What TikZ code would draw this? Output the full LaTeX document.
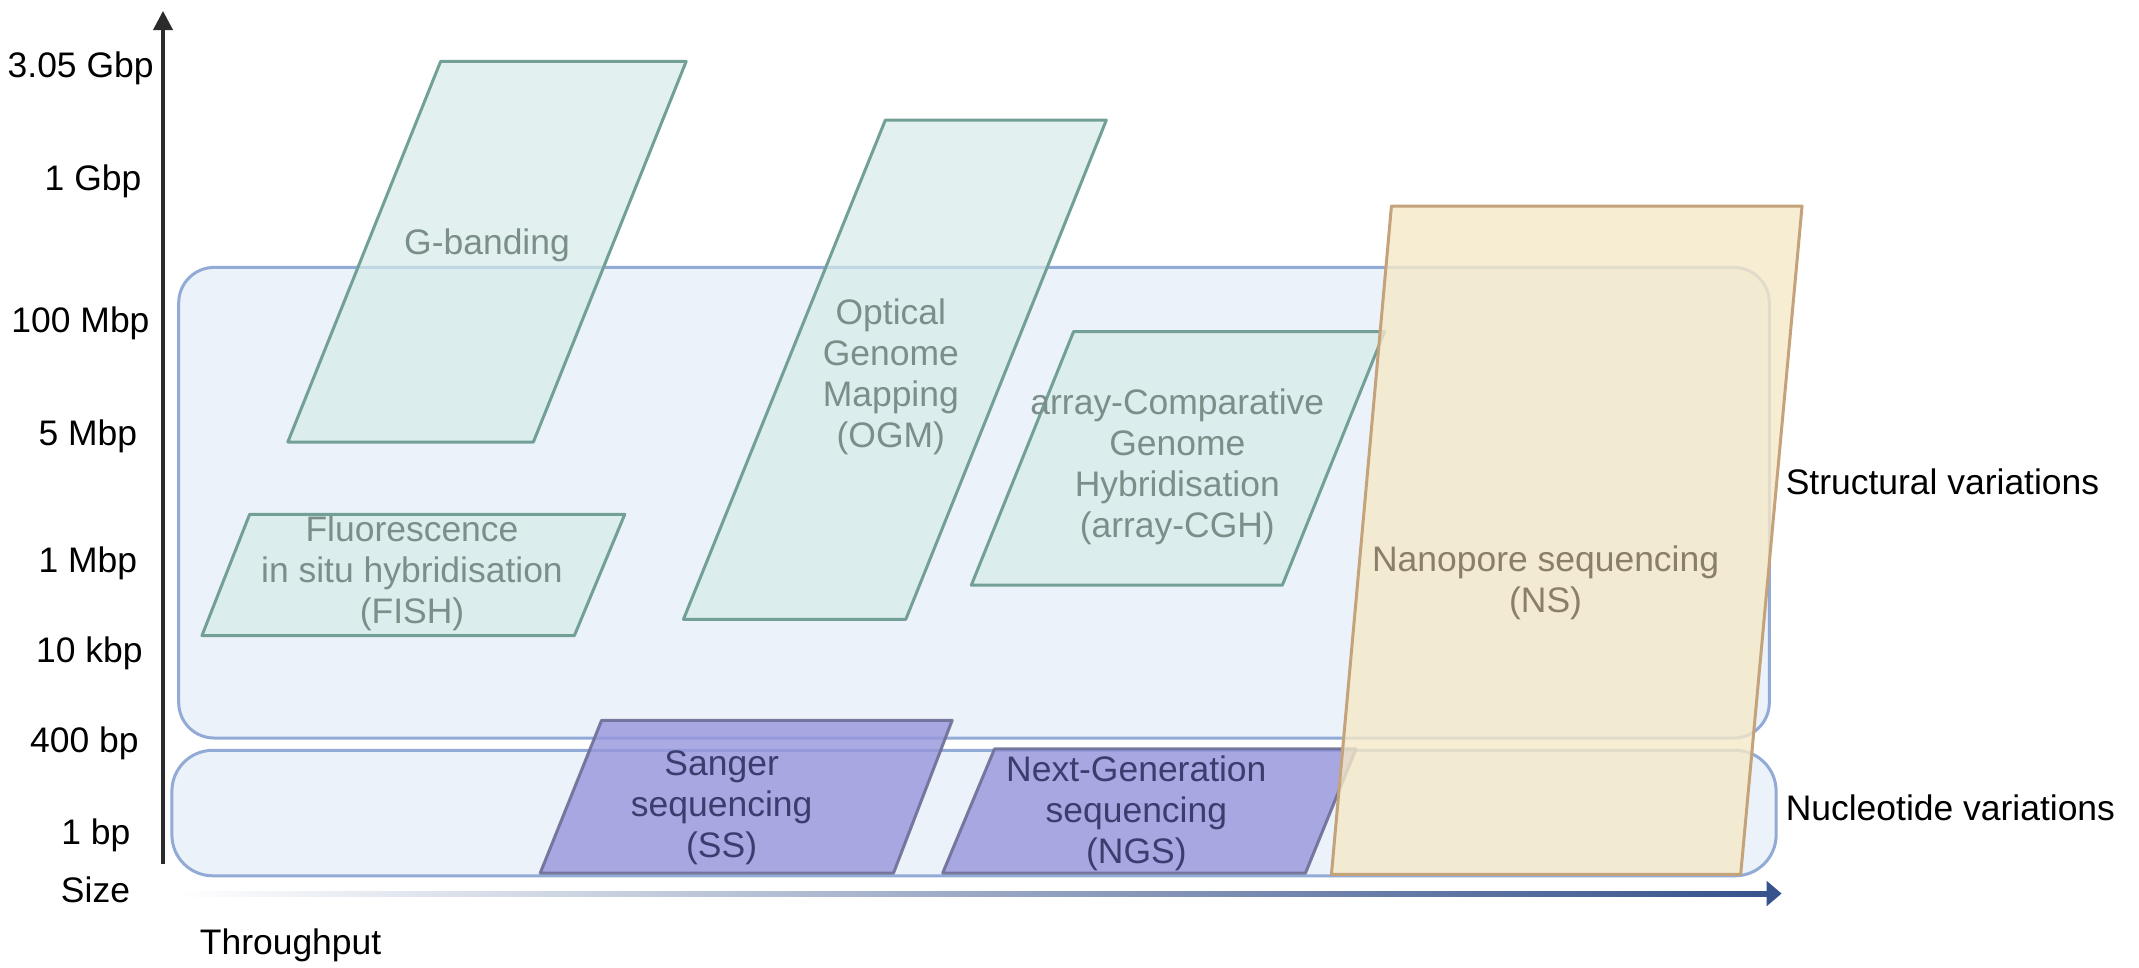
\documentclass[tikz,border=0pt]{standalone}
\usepackage{fontspec}
\setmainfont{Liberation Sans}
\usetikzlibrary{arrows.meta}
\definecolor{svfill}{HTML}{EBF2FA}
\definecolor{svline}{HTML}{92AAD6}
\definecolor{tealfill}{HTML}{D6EBE8}
\definecolor{tealline}{HTML}{73A096}
\definecolor{tealtext}{HTML}{7B8F8A}
\definecolor{purfill}{HTML}{9696DD}
\definecolor{purline}{HTML}{6E6E96}
\definecolor{purtext}{HTML}{3C3C6E}
\definecolor{nsfill}{HTML}{F5E8C8}
\definecolor{nsline}{HTML}{C4A27A}
\definecolor{nstext}{HTML}{8A8068}
\definecolor{axisblue}{HTML}{37538C}
\definecolor{axisgray}{HTML}{2B2B2B}

\begin{document}
\begin{tikzpicture}[x=0.5pt, y=-0.5pt, font=\fontsize{13}{15}\selectfont, align=center]
	\tikzstyle{group}=[draw=svline, fill=svfill, line width=1.1pt]
	\tikzstyle{tealshape}=[draw=tealline, fill=tealfill, fill opacity=0.7, line width=1.1pt, line join=round]
	\tikzstyle{purshape}=[draw=purline, draw opacity=0.9, fill=purfill, fill opacity=0.8, line width=1.1pt, line join=round]
	\tikzstyle{nsshape}=[draw=nsline, fill=nsfill, fill opacity=0.8, line width=1.1pt, line join=round]
	\tikzstyle{tealtext}=[text=tealtext]
	\tikzstyle{purtext}=[text=purtext]
	\tikzstyle{sizelabel}=[anchor=east, inner sep=0pt]
	\tikzstyle{yaxis}=[draw=axisgray, line width=1.3pt, -{Triangle[length=7pt, width=7pt]}]
	
	\useasboundingbox (0,0) rectangle (1568,709);
	
	\draw[group, rounded corners=13pt] (131,196) rectangle (1297,541);
	\draw[group, rounded corners=15pt] (126,550) rectangle (1302,642);
	\node[anchor=west] (sv) at (1302,353) {Structural variations};
	\node[anchor=west] (nv) at (1302,592) {Nucleotide variations};
	
	\draw[tealshape] (323,45) -- (503,45) -- (391,324) -- (211,324) -- cycle;
	\node[tealtext] (gband) at (357,180) {G-banding};
	
	\draw[tealshape] (183,377) -- (458,377) -- (421,466) -- (148,466) -- cycle;
	\node[tealtext] (fish) at (302,420) {Fluorescence\\in situ hybridisation\\(FISH)};
	
	\draw[tealshape] (649,88) -- (811,88) -- (664,454) -- (501,454) -- cycle;
	\node[tealtext] (ogm) at (653,276) {Optical\\Genome\\Mapping\\(OGM)};
	
	\draw[tealshape] (787,243) -- (1015,243) -- (940,429) -- (712,429) -- cycle;
	\node[tealtext] (acgh) at (863,342) {array-Comparative\\Genome\\Hybridisation\\(array-CGH)};
	
	\draw[purshape] (441,528) -- (698,528) -- (655,640) -- (396,640) -- cycle;
	\node[purtext] (ss) at (529,592) {Sanger\\sequencing\\(SS)};
	
	\draw[purshape] (729,549) -- (994,549) -- (957,640) -- (691,640) -- cycle;
	\node[purtext] (ngs) at (833,596) {Next-Generation\\sequencing\\(NGS)};
	
	\draw[nsshape] (1020,151) -- (1321,151) -- (1276,641) -- (976,641) -- cycle;
	\node[text=nstext] (ns) at (1133,427) {Nanopore sequencing\\(NS)};
	
	\coordinate (yorigin) at (119.5,633);
	\coordinate (ytop) at (119.5,8);
	\draw[yaxis] (yorigin) -- (ytop);
	\foreach \lbl/\xx/\yy [count=\i] in {3.05 Gbp/113/50, 1 Gbp/104/133, 100 Mbp/110/237, 5 Mbp/101/320, 1 Mbp/101/413, 10 kbp/105/479, 400 bp/102/545, 1 bp/96/612}
		\node[sizelabel] (size\i) at (\xx,\yy) {\lbl};
	\node (size) at (70,652) {Size};
	
	\coordinate (xend) at (1295,655);
	\coordinate (xtip) at (1306,655);
	\shade[left color=white, right color=axisblue] (128,653.2) rectangle (1296,656.8);
	\draw[axisblue, line width=1.8pt, -{Triangle[length=5.5pt, width=9pt]}] (xend) -- (xtip);
	\node (thru) at (213,693) {Throughput};
\end{tikzpicture}
\end{document}
